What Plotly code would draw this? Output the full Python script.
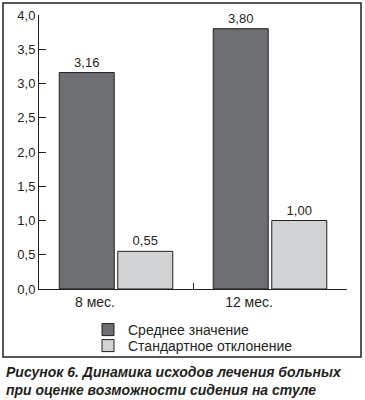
import plotly.graph_objects as go

categories = ["8 мес.", "12 мес."]
mean_values = [3.16, 3.80]
sd_values = [0.55, 1.00]
series_names = ["Среднее значение", "Стандартное отклонение"]
y_ticks = [0.0, 0.5, 1.0, 1.5, 2.0, 2.5, 3.0, 3.5, 4.0]
caption = "<b><i>Рисунок 6. Динамика исходов лечения больных<br>при оценке возможности сидения на стуле</i></b>"

FONT = "Liberation Sans, Arial, sans-serif"
TXT = "#231f20"

W, H = 365, 400
L, R, T, B = 39, 18, 15, 111
pw, ph = W - L - R, H - T - B

def px_x(px):
    return (px - L) / pw

def px_y(py):
    return (H - B - py) / ph

fig = go.Figure()
for name, vals, col, leg in [(series_names[0], mean_values, "#6d6e71", "legend"),
                             (series_names[1], sd_values, "#d1d3d4", "legend2")]:
    fig.add_trace(go.Bar(
        x=categories, y=vals, name=name, legend=leg,
        marker=dict(color=col, line=dict(color="#231f20", width=1)),
        texttemplate="%{y:.2f}", textposition="outside",
        textfont=dict(family=FONT, size=13, color=TXT),
        cliponaxis=False,
    ))

leg_common = dict(xanchor="left", yanchor="top",
                  font=dict(family=FONT, size=14, color=TXT),
                  bgcolor="rgba(0,0,0,0)", itemwidth=30, tracegroupgap=0)

fig.update_layout(
    width=W, height=H,
    margin=dict(l=L, r=R, t=T, b=B, autoexpand=False),
    paper_bgcolor="white", plot_bgcolor="white",
    separators=", ",
    barmode="group", bargap=0.24, bargroupgap=0.06,
    font=dict(family=FONT, size=13, color=TXT),
    showlegend=True,
    legend=dict(x=px_x(88), y=px_y(314), **leg_common),
    legend2=dict(x=px_x(88), y=px_y(330), **leg_common),
    xaxis=dict(showline=True, linecolor=TXT, linewidth=1, automargin=False,
               ticks="inside", tickson="boundaries", ticklen=6, tickcolor=TXT,
               tickfont=dict(size=14), ticklabelshift=-21,
               showgrid=False, zeroline=False, fixedrange=True),
    yaxis=dict(range=[0, 4], tickvals=y_ticks, tickformat=".1f", automargin=False,
               showline=True, linecolor=TXT, linewidth=1,
               ticks="inside", ticklen=7, tickcolor=TXT,
               showgrid=False, zeroline=False, fixedrange=True),
    shapes=[dict(type="rect", xref="paper", yref="paper",
                 x0=px_x(3), x1=px_x(361), y0=px_y(357), y1=px_y(3),
                 line=dict(color=TXT, width=1.5), layer="below")],
    annotations=[dict(text=caption, xref="paper", yref="paper",
                      x=px_x(4), y=px_y(362), xanchor="left", yanchor="top",
                      align="left", showarrow=False,
                      font=dict(family=FONT, size=14, color=TXT))],
)

fig.write_html("out.html", config={"displayModeBar": False},
               post_script="document.body.style.margin='0';document.body.style.overflow='hidden';")
